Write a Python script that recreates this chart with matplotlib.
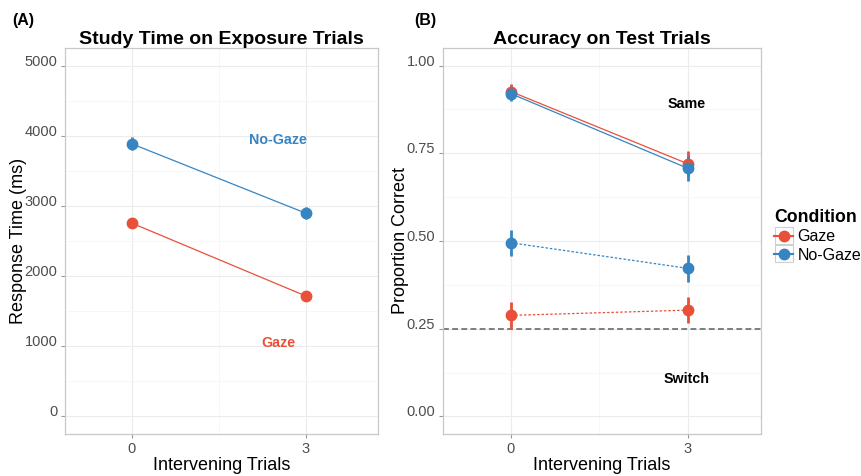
import matplotlib
matplotlib.use("Agg")
import matplotlib.pyplot as plt
from matplotlib.lines import Line2D
from matplotlib.patches import Rectangle
from matplotlib.ticker import FixedLocator

plt.rcParams["font.family"] = ["Liberation Sans", "DejaVu Sans"]

RED = "#e8503a"
BLUE = "#3685c2"
GRID = "#ececec"
GRID_MINOR = "#f6f6f6"
BORDER = "#c8c8c8"
TICK_TXT = "#4d4d4d"

# panel A: study time on exposure trials
trials = [0, 3]
rt_gaze = [2755, 1715]
rt_gaze_err = [45, 40]
rt_nogaze = [3885, 2895]
rt_nogaze_err = [95, 85]

# panel B: accuracy on test trials
acc_same_gaze = [0.926, 0.720]
acc_same_gaze_err = [0.022, 0.036]
acc_same_nogaze = [0.920, 0.707]
acc_same_nogaze_err = [0.022, 0.036]
acc_switch_gaze = [0.288, 0.303]
acc_switch_gaze_err = [0.038, 0.037]
acc_switch_nogaze = [0.495, 0.422]
acc_switch_nogaze_err = [0.037, 0.038]
chance = 0.25

rt_ticks = [0, 1000, 2000, 3000, 4000, 5000]
acc_ticks = [0.0, 0.25, 0.5, 0.75, 1.0]
acc_ticklabels = ["0.00", "0.25", "0.50", "0.75", "1.00"]


def style_axes(ax, yticks, yminor, ylabels=None):
    ax.set_xlim(-1.15, 4.24)
    ax.set_xticks(trials)
    ax.set_xticklabels([str(t) for t in trials])
    ax.xaxis.set_minor_locator(FixedLocator([1.5]))
    ax.set_yticks(yticks)
    if ylabels is not None:
        ax.set_yticklabels(ylabels)
    ax.yaxis.set_minor_locator(FixedLocator(yminor))
    ax.grid(True, which="major", color=GRID, lw=0.8, zorder=0)
    ax.grid(True, which="minor", color=GRID_MINOR, lw=0.6, zorder=0)
    ax.set_axisbelow(True)
    for s in ax.spines.values():
        s.set_color(BORDER)
        s.set_linewidth(0.9)
    ax.tick_params(which="major", length=3, width=0.8, color="#999999",
                   labelsize=10.5, labelcolor=TICK_TXT, pad=2.5)
    ax.tick_params(which="minor", length=0)
    for lab in ax.get_yticklabels():
        lab.set_va("baseline")
    ax.set_xlabel("Intervening Trials", fontsize=13, labelpad=1)


def draw_series(ax, y, err, color, ls="-"):
    ax.plot(trials, y, color=color, lw=0.9, ls=ls, zorder=3)
    ax.errorbar(trials, y, yerr=err, fmt="o", color=color, ms=7.5,
                elinewidth=2.0, capsize=0, zorder=4)


fig = plt.figure(figsize=(8.62, 4.76), dpi=100)
ax1 = fig.add_axes([65 / 862, 42 / 476, 313 / 862, 386 / 476])
ax2 = fig.add_axes([443 / 862, 42 / 476, 318 / 862, 386 / 476])

# ---- panel A
draw_series(ax1, rt_nogaze, rt_nogaze_err, BLUE)
draw_series(ax1, rt_gaze, rt_gaze_err, RED)
ax1.set_ylim(-250, 5250)
style_axes(ax1, rt_ticks, [500, 1500, 2500, 3500, 4500])
ax1.set_ylabel("Response Time (ms)", fontsize=13, labelpad=-2)
ax1.set_title("Study Time on Exposure Trials", fontsize=14, fontweight="bold", pad=3)
ax1.text(2.52, 3945, "No-Gaze", color=BLUE, fontsize=10.3, fontweight="bold",
         ha="center", va="center")
ax1.text(2.52, 1045, "Gaze", color=RED, fontsize=10.3, fontweight="bold",
         ha="center", va="center")

# ---- panel B
ax2.axhline(chance, color="#6a6a6a", lw=1.2, ls=(0, (3.5, 2)), zorder=2)
draw_series(ax2, acc_same_gaze, acc_same_gaze_err, RED)
draw_series(ax2, acc_same_nogaze, acc_same_nogaze_err, BLUE)
draw_series(ax2, acc_switch_nogaze, acc_switch_nogaze_err, BLUE, ls=(0, (2, 1.5)))
draw_series(ax2, acc_switch_gaze, acc_switch_gaze_err, RED, ls=(0, (2, 1.5)))
ax2.set_ylim(-0.05, 1.05)
style_axes(ax2, acc_ticks, [0.125, 0.375, 0.625, 0.875], acc_ticklabels)
ax2.set_ylabel("Proportion Correct", fontsize=13, labelpad=-2)
ax2.set_title("Accuracy on Test Trials", fontsize=14, fontweight="bold", pad=3)
ax2.text(2.98, 0.889, "Same", fontsize=10.3, fontweight="bold", ha="center", va="center")
ax2.text(2.98, 0.108, "Switch", fontsize=10.3, fontweight="bold", ha="center", va="center")

# panel tags
fig.text(12 / 862, 1 - 20 / 476, "(A)", fontsize=11.5, fontweight="bold", va="center")
fig.text(414 / 862, 1 - 20 / 476, "(B)", fontsize=11.5, fontweight="bold", va="center")

# legend
handles = [
    Line2D([0], [0], color=RED, lw=1.5, marker="o", ms=7.5),
    Line2D([0], [0], color=BLUE, lw=1.5, marker="o", ms=7.5),
]
leg = fig.legend(handles, ["Gaze", "No-Gaze"], title="Condition",
                 loc="upper left", bbox_to_anchor=(771 / 862, 1 - 206 / 476),
                 frameon=False, fontsize=11.5, handlelength=1.2,
                 handletextpad=0.25, labelspacing=0.2, borderpad=0.2,
                 borderaxespad=0)
leg.get_title().set_fontweight("bold")
leg.get_title().set_fontsize(12.7)
leg._legend_box.align = "left"

# grey key boxes like ggplot
fig.canvas.draw()
renderer = fig.canvas.get_renderer()
inv = fig.transFigure.inverted()
for h in leg.legend_handles:
    bb = h.get_window_extent(renderer)
    cx = (bb.x0 + bb.x1) / 2
    cy = (bb.y0 + bb.y1) / 2
    x0, y0 = inv.transform((cx - 9, cy - 8.5))
    x1, y1 = inv.transform((cx + 9, cy + 8.5))
    fig.add_artist(Rectangle((x0, y0), x1 - x0, y1 - y0, transform=fig.transFigure,
                             fill=False, edgecolor="#cfcfcf", lw=0.8))

fig.savefig("out.png", dpi=100)
